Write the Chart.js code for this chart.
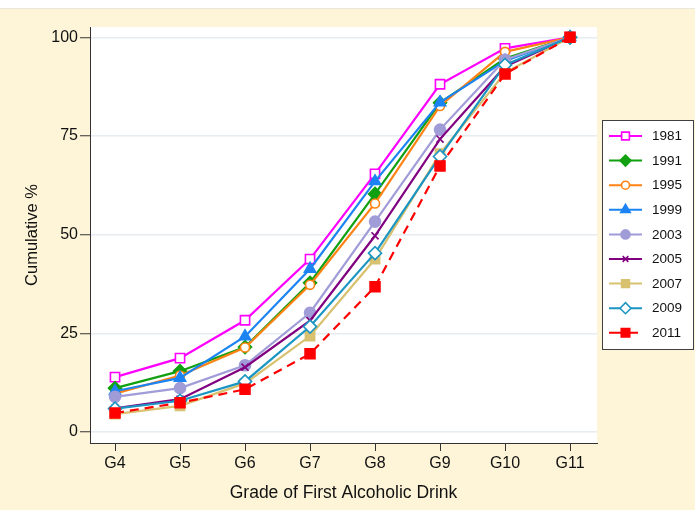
<!DOCTYPE html>
<html>
<head>
<meta charset="utf-8">
<title>Cumulative % by Grade of First Alcoholic Drink</title>
<script src="https://cdn.jsdelivr.net/npm/chart.js@4.4.1/dist/chart.umd.min.js"></script>
<style>
  html, body { margin: 0; padding: 0; background: #fef5d8; }
  canvas { display: block; }
</style>
</head>
<body>
<canvas id="chart" width="695" height="510"></canvas>
<script>
// Grade at which the first alcoholic drink was taken
const grades = ['G4', 'G5', 'G6', 'G7', 'G8', 'G9', 'G10', 'G11'];
const yTickValues = [0, 25, 50, 75, 100];

// Cumulative percentage by grade, one array per survey year
const y1981 = [13.9, 18.7, 28.3, 43.8, 65.4, 88.1, 97.2, 100];
const y1991 = [11.1, 15.4, 21.5, 37.8, 60.3, 83.4, 94.6, 100];
const y1995 = [9.7, 14.3, 21.4, 37.3, 57.9, 82.6, 96.3, 100];
const y1999 = [10.3, 13.7, 24.2, 41.3, 63.5, 83.5, 94.0, 100];
const y2003 = [8.9, 11.1, 16.9, 30.2, 53.3, 76.6, 94.3, 100];
const y2005 = [6.0, 8.3, 16.4, 28.2, 49.7, 74.2, 92.6, 100];
const y2007 = [4.5, 6.6, 12.3, 24.3, 43.8, 70.5, 91.0, 100];
const y2009 = [5.9, 7.9, 12.8, 26.7, 45.3, 69.8, 93.0, 100];
const y2011 = [4.8, 7.4, 10.8, 19.8, 36.8, 67.4, 90.7, 100];

const FONT = '"Liberation Sans", Arial, Helvetica, sans-serif';
const CREAM = '#fef5d8';

const seriesDefs = [
  { label: '1981', data: y1981, color: '#ff00ff', style: 'rect',     radius: 6.5, hollow: true },
  { label: '1991', data: y1991, color: '#11a011', style: 'rectRot',  radius: 6.5, hollow: false },
  { label: '1995', data: y1995, color: '#ff8214', style: 'circle',   radius: 4.5, hollow: true },
  { label: '1999', data: y1999, color: '#1c84f2', style: 'triangle', radius: 6.5, hollow: false },
  { label: '2003', data: y2003, color: '#a09cd8', style: 'circle',   radius: 5.5, hollow: false },
  { label: '2005', data: y2005, color: '#800080', style: 'crossRot', radius: 5,   hollow: false },
  { label: '2007', data: y2007, color: '#d8c16f', style: 'rect',     radius: 6.5, hollow: false },
  { label: '2009', data: y2009, color: '#1b95c2', style: 'rectRot',  radius: 6.5, hollow: true },
  { label: '2011', data: y2011, color: '#ff0000', style: 'rect',     radius: 7,   hollow: false, dash: [9, 6] }
];

const datasets = seriesDefs.map((s, i) => ({
  label: s.label,
  data: s.data.map((v, k) => ({ x: k, y: v })),
  borderColor: s.color,
  backgroundColor: s.color,
  borderWidth: 2.2,
  borderDash: s.dash || [],
  tension: 0,
  pointStyle: s.style,
  pointRadius: s.radius,
  pointHoverRadius: s.radius,
  pointBorderWidth: 1.6,
  pointBorderColor: s.color,
  pointBackgroundColor: s.hollow ? '#ffffff' : s.color,
  order: seriesDefs.length - i
}));

// Cream page, white strip across the top and white plot region
const backdrop = {
  id: 'backdrop',
  beforeDraw(chart) {
    const { ctx, chartArea: a } = chart;
    ctx.save();
    ctx.fillStyle = CREAM;
    ctx.fillRect(0, 0, chart.width, chart.height);
    ctx.fillStyle = '#ffffff';
    ctx.fillRect(0, 0, chart.width, 8);
    ctx.fillStyle = '#e9e7dc';
    ctx.fillRect(0, 8, chart.width, 1);
    ctx.fillStyle = '#ffffff';
    ctx.fillRect(a.left, a.top, a.right - a.left, a.bottom - a.top);
    ctx.restore();
  }
};

// Boxed key on the right with line + marker samples
const sideKey = {
  id: 'sideKey',
  afterDraw(chart) {
    const { ctx } = chart;
    const box = { x: 602, y: 120, w: 92, h: 230 };
    ctx.save();
    ctx.fillStyle = '#ffffff';
    ctx.fillRect(box.x, box.y, box.w, box.h);
    ctx.strokeStyle = '#404040';
    ctx.lineWidth = 1;
    ctx.strokeRect(box.x + 0.5, box.y + 0.5, box.w - 1, box.h - 1);
    seriesDefs.forEach((s, i) => {
      const cy = 136 + i * 24.6;
      const x0 = 609, x1 = 642, cx = (x0 + x1) / 2;
      ctx.strokeStyle = s.color;
      ctx.lineWidth = 2;
      ctx.setLineDash(s.dash ? [12, 5] : []);
      ctx.beginPath();
      ctx.moveTo(x0, cy);
      ctx.lineTo(x1, cy);
      ctx.stroke();
      ctx.setLineDash([]);
      ctx.fillStyle = s.hollow ? '#ffffff' : s.color;
      ctx.strokeStyle = s.color;
      ctx.lineWidth = 1.6;
      Chart.helpers.drawPoint(ctx, {
        pointStyle: s.style,
        radius: Math.max(4, s.radius - 1),
        rotation: 0,
        borderWidth: 1.6
      }, cx, cy);
      ctx.fillStyle = '#111111';
      ctx.font = '13.5px ' + FONT;
      ctx.textAlign = 'left';
      ctx.textBaseline = 'middle';
      ctx.fillText(s.label, 652, cy + 0.5);
    });
    ctx.restore();
  }
};

new Chart(document.getElementById('chart'), {
  type: 'line',
  data: { datasets },
  plugins: [backdrop, sideKey],
  options: {
    responsive: false,
    animation: false,
    devicePixelRatio: 1,
    layout: { padding: { left: 0, top: 27, right: 98, bottom: 0 } },
    plugins: {
      legend: { display: false },
      tooltip: { enabled: false },
      title: { display: false }
    },
    scales: {
      x: {
        type: 'linear',
        min: -0.385,
        max: 7.415,
        afterBuildTicks(scale) {
          scale.ticks = grades.map((g, k) => ({ value: k }));
        },
        afterFit(scale) { scale.height = 67; },
        ticks: {
          autoSkip: false,
          maxRotation: 0,
          padding: 3,
          color: '#111111',
          font: { family: FONT, size: 16 },
          callback: (v) => grades[v]
        },
        grid: {
          drawOnChartArea: false,
          drawTicks: true,
          tickLength: 8,
          tickColor: '#333333',
          tickWidth: 1
        },
        border: { display: true, color: '#333333', width: 1 },
        title: {
          display: true,
          text: 'Grade of First Alcoholic Drink',
          color: '#111111',
          font: { family: FONT, size: 17.5 },
          padding: { top: 0, bottom: 6 }
        }
      },
      y: {
        type: 'linear',
        min: -2.8,
        max: 102.6,
        afterBuildTicks(scale) {
          scale.ticks = yTickValues.map(v => ({ value: v }));
        },
        afterFit(scale) { scale.width = 90; },
        ticks: {
          padding: 2,
          color: '#111111',
          font: { family: FONT, size: 16 }
        },
        grid: {
          color: '#e6ecef',
          lineWidth: 1.5,
          drawTicks: true,
          tickLength: 10,
          tickColor: '#333333',
          tickWidth: 1
        },
        border: { display: true, color: '#333333', width: 1 },
        title: {
          display: true,
          text: 'Cumulative %',
          color: '#111111',
          font: { family: FONT, size: 16.5 },
          padding: { top: 23, bottom: 0 }
        }
      }
    }
  }
});
</script>
</body>
</html>
